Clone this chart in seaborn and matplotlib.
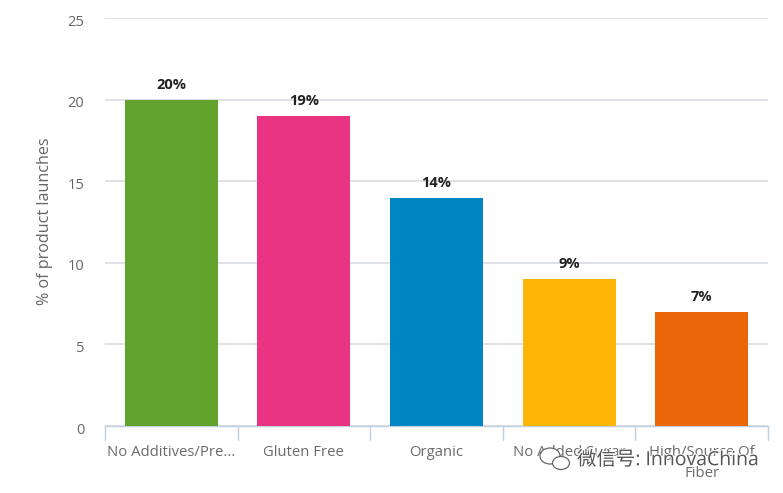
import seaborn as sns
import matplotlib.pyplot as plt
import matplotlib.patheffects as pe
from matplotlib.patches import Ellipse
from matplotlib.transforms import ScaledTranslation
import pandas as pd

categories = ['No Additives/Pre...', 'Gluten Free', 'Organic', 'No Added Sugar', 'High/Source Of\nFiber']
values = [20, 19, 14, 9, 7]
colors = ['#62a32e', '#e83482', '#0087c3', '#fdb607', '#ea6609']
yticks = [0, 5, 10, 15, 20, 25]

df = pd.DataFrame({'claim': categories, 'share': values})

sns.set_style('white')
plt.rcParams['font.family'] = ['Open Sans', 'Noto Sans CJK SC', 'DejaVu Sans']

W, H = 783, 493
fig = plt.figure(figsize=(W / 100, H / 100), dpi=100)
ax = fig.add_axes([105 / W, 1 - 426 / H, 663 / W, 408 / H])

sns.barplot(data=df, x='claim', y='share', hue='claim', palette=colors,
            width=0.7, saturation=1, legend=False, ax=ax, zorder=3)

ax.set_ylim(0, 25)
ax.set_xlim(-0.5, 4.5)
ax.set_yticks(yticks)
ax.grid(axis='y', color='#d8dce0', linewidth=1.2, zorder=0)
ax.grid(axis='x', visible=False)

for bar in ax.patches:
    bar.set_linewidth(0)

for spine in ['top', 'left', 'right']:
    ax.spines[spine].set_visible(False)
ax.spines['bottom'].set_color('#c0d0e0')
ax.spines['bottom'].set_linewidth(1)

# category separators hang below the axis
for i in range(len(categories) + 1):
    ax.plot([i - 0.5, i - 0.5], [0, -14 / 408 * 25], color='#c0d0e0', lw=1,
            clip_on=False, zorder=2)

ax.set_xticks(range(len(categories)))
ax.set_xticklabels(categories, fontsize=10.7, color='#6a6a6a', linespacing=1.55, va='top')
ax.tick_params(axis='x', length=0, pad=14)
ax.tick_params(axis='y', length=0, pad=15, labelsize=10.5, labelcolor='#666666')
for lab in ax.get_yticklabels():
    lab.set_transform(lab.get_transform() + ScaledTranslation(0, -2 / 100, fig.dpi_scale_trans))

ax.set_xlabel('')
ax.set_ylabel('% of product launches', fontsize=11.6, color='#666666')
ax.yaxis.set_label_coords((53 - 105) / 663, 0.5025)

for i, v in enumerate(values):
    ax.annotate(f'{v}%', (i, v), xytext=(0, 8), textcoords='offset pixels',
                ha='center', va='bottom', fontsize=10.5, fontweight='bold', color='#222222')

# watermark
halo = [pe.withStroke(linewidth=1.5, foreground='white')]
fig.text(577 / W, 1 - 460 / H, '微信号: InnovaChina', fontsize=14, color='#555555',
         ha='left', va='center', path_effects=halo)
for cx, cy, w, h in [(550, 456, 20, 16), (561, 463, 17, 13)]:
    fig.add_artist(Ellipse((cx / W, 1 - cy / H), w / W, h / H, transform=fig.transFigure,
                           fill=True, facecolor='white', edgecolor='#666666', lw=0.9))

fig.savefig('out.png', dpi=100, facecolor='white')
